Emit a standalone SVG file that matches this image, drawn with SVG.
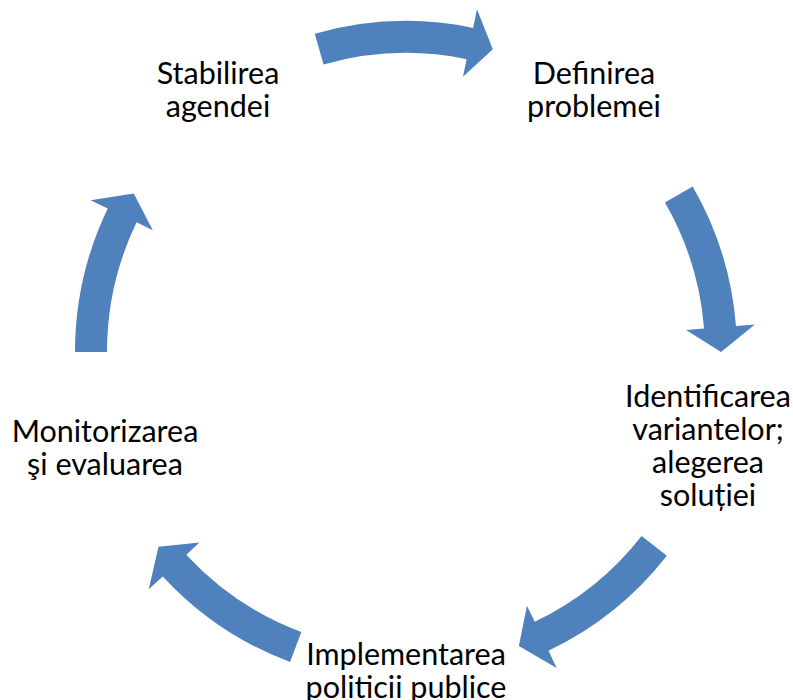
<svg xmlns="http://www.w3.org/2000/svg" width="793" height="700" viewBox="0 0 793 700">
  <style>
    .arrow { fill: #4F81BD; stroke: none; }
    .label { font-family: Lato, "Open Sans", "Liberation Sans", sans-serif; font-size: 30.5px; fill: #000000; text-anchor: middle; }
  </style>
  <rect width="793" height="700" fill="#FFFFFF"/>
  <g id="connectors">
    <path class="arrow" d="M314.76,33.82 A331,331 0 0 1 473.12,27.88 L476.98,9.27 L492.83,49.20 L462.98,76.84 L466.63,59.21 A299,299 0 0 0 323.58,64.58 Z"/>
    <path class="arrow" d="M692.65,186.5 A331,331 0 0 1 735.98,326.03 L754.92,324.54 L721,352 L686.13,329.95 L704.08,328.54 A299,299 0 0 0 664.94,202.5 Z"/>
    <path class="arrow" d="M666.83,555.78 A331,331 0 0 1 548.50,650.76 L556.68,667.91 L518.89,646.08 L526.97,605.63 L534.72,621.87 A299,299 0 0 0 641.62,536.08 Z"/>
    <path class="arrow" d="M290.08,662.04 A331,331 0 0 1 162.74,576.47 L148.78,589.36 L158.45,546.80 L199.49,542.56 L186.26,554.77 A299,299 0 0 0 301.29,632.06 Z"/>
    <path class="arrow" d="M75,352 A331,331 0 0 1 107.74,208.46 L90.62,200.22 L133.75,193.55 L152.80,230.14 L136.58,222.34 A299,299 0 0 0 107,352 Z"/>
  </g>
  <g id="node-stabilirea">
    <text class="label" x="218" y="84">Stabilirea</text>
    <text class="label" x="218" y="117">agendei</text>
  </g>
  <g id="node-definirea">
    <text class="label" x="594" y="84">Definirea</text>
    <text class="label" x="594" y="117">problemei</text>
  </g>
  <g id="node-identificarea">
    <text class="label" x="708" y="407">Identificarea</text>
    <text class="label" x="708" y="440">variantelor;</text>
    <text class="label" x="708" y="473">alegerea</text>
    <text class="label" x="708" y="506">soluției</text>
  </g>
  <g id="node-implementarea">
    <text class="label" x="406" y="665">Implementarea</text>
    <text class="label" x="406" y="698">politicii publice</text>
  </g>
  <g id="node-monitorizarea">
    <text class="label" x="105" y="442">Monitorizarea</text>
    <text class="label" x="105" y="475">şi evaluarea</text>
  </g>
</svg>
